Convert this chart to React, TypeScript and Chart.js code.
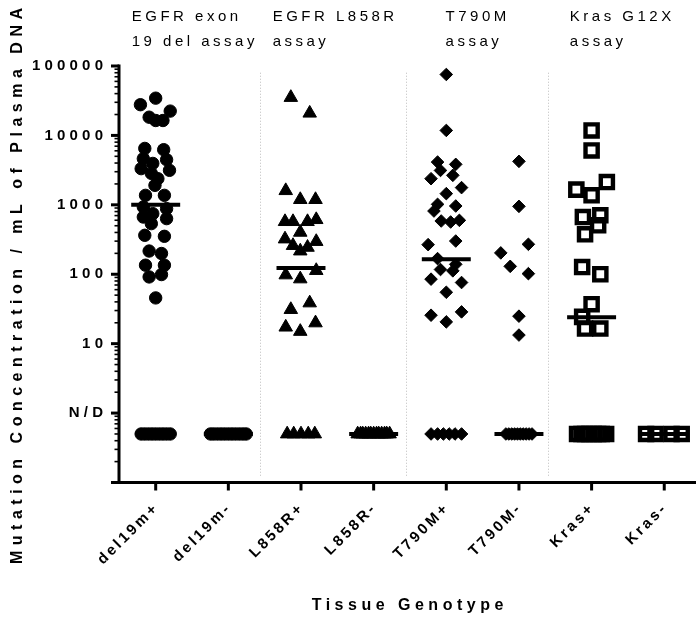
import React, { useEffect, useRef } from 'react';
import { Chart, registerables } from 'chart.js';

Chart.register(...registerables);

const FONT = '"Liberation Sans", Arial, Helvetica, sans-serif';

// ---------------- data ----------------
const categories = ['del19m+', 'del19m-', 'L858R+', 'L858R-', 'T790M+', 'T790M-', 'Kras+', 'Kras-'];
const groupLines = [
  ['EGFR exon', '19 del assay'],
  ['EGFR L858R', 'assay'],
  ['T790M', 'assay'],
  ['Kras G12X', 'assay'],
];
const groupLabelAt = [-0.33, 1.61, 3.99, 5.7];
const separatorsAt = [1.44, 3.45, 5.4];
const yTickValues = [1, 10, 100, 1000, 10000, 100000];
const yTickLabels = ['N/D', '10', '100', '1000', '10000', '100000'];
const xTitle = 'Tissue Genotype';
const yTitle = 'Mutation Concentration / mL of Plasma DNA';

const ndValue = 0.5; // value used to plot "N/D" samples
const medians = [1000, 0.5, 123, 0.5, 164, 0.5, 24, 0.5];

// detected samples: [horizontal jitter (category units), copies / mL]
const del19mPlus: [number, number][] = [
  [0, 34400], [-0.21, 27700], [0.2, 22400], [-0.09, 18300], [0, 16400], [0.1, 16400],
  [-0.15, 6500], [0.11, 6230], [-0.17, 4620], [0.15, 4470], [-0.04, 3950], [-0.2, 3320],
  [0.19, 3140], [-0.06, 2840], [0.03, 2380], [-0.01, 1910], [-0.14, 1370], [0.12, 1370],
  [-0.17, 930], [0.15, 881], [-0.04, 747], [-0.17, 667], [0.15, 633], [-0.06, 536],
  [-0.15, 364], [0.12, 352], [-0.09, 216], [0.08, 199], [-0.14, 135], [0.12, 135],
  [-0.09, 91.5], [0.08, 99], [0, 45.6],
];
const del19mMinus: [number, number][] = [];
const l858rPlus: [number, number][] = [
  [-0.14, 35200], [0.12, 20900], [-0.21, 1600], [-0.01, 1190], [0.2, 1190],
  [-0.22, 573], [-0.11, 573], [0.09, 573], [0.21, 612], [-0.01, 402],
  [-0.22, 322], [0.21, 296], [-0.11, 259], [0.09, 244], [-0.01, 216],
  [0.21, 113], [-0.21, 97.7], [-0.01, 85.6], [0.12, 38.6], [-0.14, 31],
  [-0.21, 17.3], [0.2, 19.9], [-0.01, 15],
];
const l858rMinus: [number, number][] = [];
const t790mPlus: [number, number][] = [
  [0, 75500], [0, 11800], [-0.12, 4130], [0.13, 3830], [-0.08, 3130], [0.09, 2660],
  [-0.21, 2380], [0.21, 1770], [0, 1450], [-0.12, 1016], [0.13, 962], [-0.17, 814],
  [-0.07, 585], [0.06, 566], [0.18, 598], [0.13, 301], [-0.25, 267], [-0.12, 168],
  [0.13, 139], [-0.08, 117], [0.09, 112], [-0.21, 85], [0.21, 76], [0, 55],
  [-0.21, 25.7], [0.21, 28.7], [0, 20.6],
];
const t790mMinus: [number, number][] = [
  [0, 4230], [0, 951], [0.13, 270], [-0.25, 203], [-0.12, 130], [0.13, 102], [0, 24.9], [0, 13.3],
];
const krasPlus: [number, number][] = [
  [0, 11800], [0, 6080], [-0.21, 1656], [0.21, 2130], [0, 1370], [-0.12, 667], [0.12, 706],
  [0.09, 507], [-0.09, 376], [-0.13, 127], [0.12, 100], [0, 37], [-0.13, 24.3],
  [-0.09, 16.5], [0.12, 16.5],
];
const krasMinus: [number, number][] = [];

// N/D samples: horizontal jitter (category units)
const del19mPlusND = [-0.2, -0.15, -0.1, -0.05, 0, 0.05, 0.1, 0.15, 0.2];
const del19mMinusND = [-0.245, -0.2, -0.15, -0.1, -0.05, 0, 0.05, 0.1, 0.15, 0.2, 0.245];
const l858rPlusND = [-0.19, -0.1, 0, 0.1, 0.19];
const l858rMinusND = [-0.22, -0.18, -0.15, -0.11, -0.07, -0.04, 0, 0.04, 0.07, 0.11, 0.15, 0.18, 0.22];
const t790mPlusND = [-0.21, -0.12, -0.04, 0.04, 0.12, 0.21];
const t790mMinusND = [-0.18, -0.14, -0.1, -0.06, -0.02, 0.02, 0.06, 0.1, 0.14, 0.18];
const krasPlusND = [-0.2, -0.14, -0.09, -0.03, 0.03, 0.09, 0.14, 0.2];
const krasMinusND = [-0.25, -0.12, 0.1, 0.24];

const detected = [del19mPlus, del19mMinus, l858rPlus, l858rMinus, t790mPlus, t790mMinus, krasPlus, krasMinus];
const notDetected = [del19mPlusND, del19mMinusND, l858rPlusND, l858rMinusND, t790mPlusND, t790mMinusND, krasPlusND, krasMinusND];

// ---------------- styles ----------------
type Mk = { style: string; radius: number; border: number; fill: string };
const circleMk: Mk = { style: 'circle', radius: 6.2, border: 1, fill: '#000' };
const triMk: Mk = { style: 'triangle', radius: 7.8, border: 1, fill: '#000' };
const diaMk: Mk = { style: 'rectRot', radius: 6.3, border: 1, fill: '#000' };
const sqMk: Mk = { style: 'rect', radius: 8.6, border: 4.4, fill: 'rgba(0,0,0,0)' };
const markers = [circleMk, circleMk, triMk, triMk, diaMk, diaMk, sqMk, sqMk];
const MEDIAN_HALF = 0.337;

function spacedText(
  ctx: CanvasRenderingContext2D, text: string, x: number, y: number,
  spacing: number, align: 'left' | 'right' | 'center'
) {
  (ctx as any).letterSpacing = spacing + 'px';
  ctx.textAlign = 'left';
  const w = ctx.measureText(text).width - spacing;
  let sx = x;
  if (align === 'right') sx = x - w;
  else if (align === 'center') sx = x - w / 2;
  ctx.fillText(text, sx, y);
  (ctx as any).letterSpacing = '0px';
}

const axesPlugin = {
  id: 'prismAxes',
  beforeDatasetsDraw(chart: any) {
    const { ctx, scales } = chart;
    const xs = scales.x, ys = scales.y;
    ctx.save();
    ctx.strokeStyle = '#bdbdbd';
    ctx.lineWidth = 1;
    ctx.setLineDash([1, 2]);
    separatorsAt.forEach((v) => {
      const px = Math.round(xs.getPixelForValue(v)) + 0.5;
      ctx.beginPath();
      ctx.moveTo(px, ys.getPixelForValue(80000));
      ctx.lineTo(px, ys.getPixelForValue(0.12));
      ctx.stroke();
    });
    ctx.restore();
  },
  afterDatasetsDraw(chart: any) {
    const { ctx, scales, chartArea } = chart;
    const xs = scales.x, ys = scales.y;
    const L = chartArea.left, B = chartArea.bottom, T = chartArea.top, R = chartArea.right;
    ctx.save();
    ctx.strokeStyle = '#000';
    ctx.fillStyle = '#000';
    ctx.lineCap = 'butt';
    // y axis line
    ctx.lineWidth = 3;
    ctx.beginPath();
    ctx.moveTo(L, T - 1.5);
    ctx.lineTo(L, B + 1.5);
    ctx.stroke();
    // x axis line (extends left as the bottom major tick)
    ctx.beginPath();
    ctx.moveTo(L - 8, B);
    ctx.lineTo(R, B);
    ctx.stroke();
    // y major ticks
    yTickValues.forEach((v) => {
      const py = ys.getPixelForValue(v);
      ctx.beginPath();
      ctx.moveTo(L - 8, py);
      ctx.lineTo(L, py);
      ctx.stroke();
    });
    // y minor ticks
    ctx.lineWidth = 1.6;
    for (let d = -1; d <= 4; d++) {
      for (let k = 2; k <= 9; k++) {
        const py = ys.getPixelForValue(k * Math.pow(10, d));
        ctx.beginPath();
        ctx.moveTo(L - 4.5, py);
        ctx.lineTo(L, py);
        ctx.stroke();
      }
    }
    // x ticks
    ctx.lineWidth = 3;
    categories.forEach((_, i) => {
      const px = xs.getPixelForValue(i);
      ctx.beginPath();
      ctx.moveTo(px, B);
      ctx.lineTo(px, B + 8);
      ctx.stroke();
    });
    // y tick labels
    ctx.font = `bold 15px ${FONT}`;
    ctx.textBaseline = 'middle';
    yTickValues.forEach((v, i) => {
      spacedText(ctx, yTickLabels[i], L - 16, ys.getPixelForValue(v), 4.2, 'right');
    });
    // x tick labels (rotated 45°)
    categories.forEach((c, i) => {
      const px = xs.getPixelForValue(i);
      ctx.save();
      ctx.translate(px - 1, B + 25);
      ctx.rotate(-Math.PI / 4);
      ctx.font = `bold 15px ${FONT}`;
      ctx.textBaseline = 'middle';
      spacedText(ctx, c, 0, 0, 2.8, 'right');
      ctx.restore();
    });
    // x title
    ctx.font = `bold 16px ${FONT}`;
    ctx.textBaseline = 'middle';
    spacedText(ctx, xTitle, (L + R) / 2, B + 123, 4.5, 'center');
    // y title
    ctx.save();
    ctx.translate(22, 286);
    ctx.rotate(-Math.PI / 2);
    ctx.font = `bold 16px ${FONT}`;
    ctx.textBaseline = 'alphabetic';
    spacedText(ctx, yTitle, 0, 0, 5.5, 'center');
    ctx.restore();
    // group labels above the plot
    ctx.font = `15px ${FONT}`;
    ctx.textBaseline = 'middle';
    groupLines.forEach((lines, g) => {
      const px = xs.getPixelForValue(groupLabelAt[g]);
      lines.forEach((t, k) => {
        spacedText(ctx, t, px, T - 49 + k * 25, 3.5, 'left');
      });
    });
    ctx.restore();
  },
};

function buildDatasets() {
  const ds: any[] = [];
  categories.forEach((c, i) => {
    const m = markers[i];
    const pts = [
      ...notDetected[i].map((j) => ({ x: i + j, y: ndValue })),
      ...detected[i].map(([j, v]) => ({ x: i + j, y: v })),
    ];
    ds.push({
      label: c,
      data: pts,
      pointStyle: m.style,
      pointRadius: m.radius,
      pointBorderWidth: m.border,
      pointBackgroundColor: m.fill,
      pointBorderColor: '#000',
      showLine: false,
      clip: false,
      order: 1,
    });
  });
  categories.forEach((c, i) => {
    ds.push({
      label: c + ' median',
      type: 'line',
      data: [
        { x: i - MEDIAN_HALF, y: medians[i] },
        { x: i + MEDIAN_HALF, y: medians[i] },
      ],
      borderColor: '#000',
      borderWidth: 4,
      borderCapStyle: 'butt',
      pointRadius: 0,
      showLine: true,
      fill: false,
      clip: false,
      order: 0,
    });
  });
  return ds;
}

export default function App() {
  const ref = useRef<HTMLCanvasElement>(null);
  useEffect(() => {
    document.body.style.margin = '0';
    const chart = new Chart(ref.current as HTMLCanvasElement, {
      type: 'scatter',
      data: { datasets: buildDatasets() },
      options: {
        animation: false,
        responsive: false,
        maintainAspectRatio: false,
        devicePixelRatio: 1,
        layout: { autoPadding: false, padding: { left: 119, right: 0, top: 66, bottom: 137.5 } },
        plugins: { legend: { display: false }, tooltip: { enabled: false } },
        scales: {
          x: { type: 'linear', min: -0.505, max: 7.437, display: false },
          y: { type: 'logarithmic', min: 0.1, max: 100000, display: false },
        },
      } as any,
      plugins: [axesPlugin as any],
    });
    return () => chart.destroy();
  }, []);
  return (
    <div style={{ width: 696, height: 620, background: '#fff' }}>
      <canvas ref={ref} width={696} height={620} style={{ display: 'block' }} />
    </div>
  );
}
